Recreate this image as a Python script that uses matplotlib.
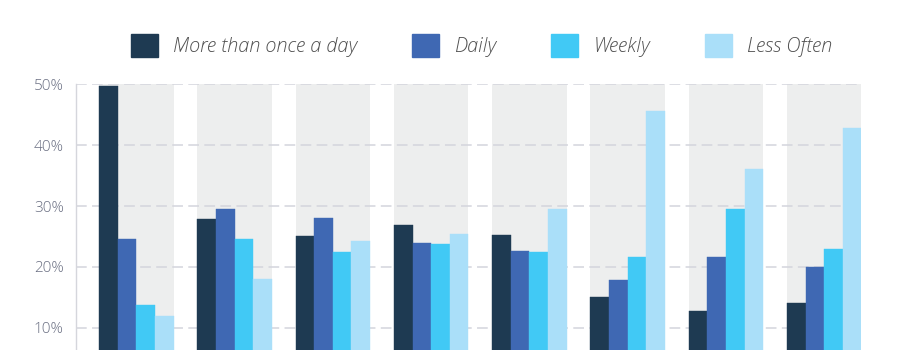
import numpy as np
import matplotlib.pyplot as plt
from matplotlib.patches import Patch

series = ['More than once a day', 'Daily', 'Weekly', 'Less Often']
colors = ['#1e3a52', '#3f68b3', '#41c9f5', '#aadff9']

# one value per group, 8 groups (x labels are cropped out of the reference)
more_than_once = [49.7, 27.9, 25.1, 26.8, 25.2, 15.0, 12.7, 14.05]
daily = [24.6, 29.5, 28.1, 23.9, 22.6, 17.8, 21.6, 20.0]
weekly = [13.7, 24.5, 22.5, 23.8, 22.5, 21.6, 29.55, 23.0]
less_often = [12.0, 18.05, 24.3, 25.35, 29.55, 45.6, 36.0, 42.9]
yticks = [10, 20, 30, 40, 50]

values = [more_than_once, daily, weekly, less_often]
n_groups = len(more_than_once)
x = np.arange(n_groups)
bar_w = 0.1895

fig = plt.figure(figsize=(9, 3.5), dpi=100)
# axes runs below the bottom edge, the reference is cropped there
ax = fig.add_axes([0.0848, -0.1101, 0.8719, 0.8692])

# grey band behind each group
for xi in x:
    ax.axvspan(xi - 2 * bar_w, xi + 2 * bar_w, color='#edeeee', lw=0, zorder=0)

for i, (vals, c) in enumerate(zip(values, colors)):
    ax.bar(x + (i - 1.5) * bar_w, vals, bar_w, color=c, zorder=3,
           edgecolor=c, linewidth=0.3)

ax.set_xlim(-0.61, 7.374)
ax.set_ylim(0, 50)
ax.set_yticks(yticks)
ax.set_yticklabels([f'{t}%' for t in yticks])
ax.set_xticks([])
ax.yaxis.grid(True, color='#d3d4dc', linestyle=(0, (7, 3.5)), linewidth=1.1)
for gl in ax.get_ygridlines():
    gl.set_zorder(1)

for s in ['top', 'right', 'bottom']:
    ax.spines[s].set_visible(False)
ax.spines['left'].set_color('#d5d6dc')
ax.spines['left'].set_linewidth(1)
ax.tick_params(axis='y', length=0, pad=9, labelsize=11, labelcolor='#6a6f82')
for lab in ax.get_yticklabels():
    lab.set_fontfamily('Open Sans')
    lab.set_fontweight('light')

handles = [Patch(facecolor=c, edgecolor=c) for c in colors]
fig.legend(handles, series, loc='center', bbox_to_anchor=(0.535, 0.869), ncol=4,
           frameon=False, handlelength=1.36, handleheight=1.36, handletextpad=0.755,
           columnspacing=2.77,
           prop={'family': 'Open Sans', 'style': 'italic', 'size': 14.3, 'weight': 'light'},
           labelcolor='#4f4f4f')

fig.savefig('out.png', dpi=100)
